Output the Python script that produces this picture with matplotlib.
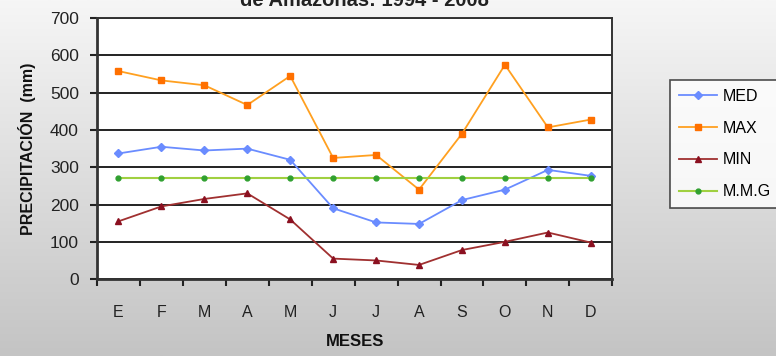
import matplotlib
matplotlib.use('Agg')
import matplotlib.pyplot as plt
import numpy as np

plt.rcParams['font.family'] = ['Liberation Sans', 'DejaVu Sans']

meses = ['E', 'F', 'M', 'A', 'M', 'J', 'J', 'A', 'S', 'O', 'N', 'D']
med = [337, 355, 345, 350, 320, 190, 152, 148, 212, 240, 293, 277]
maxi = [558, 533, 520, 467, 545, 325, 333, 240, 390, 575, 407, 428]
mini = [155, 195, 215, 230, 160, 55, 50, 38, 78, 100, 125, 98]
mmg = [270] * 12

fig = plt.figure(figsize=(7.76, 3.56), dpi=100)

# grey gradient background
bg = fig.add_axes([0, 0, 1, 1], zorder=-10)
grad = np.linspace(0, 1, 256).reshape(-1, 1)
bg.imshow(grad, aspect='auto', cmap=matplotlib.colors.LinearSegmentedColormap.from_list(
    'g', ['#f6f6f6', '#c4c4c4']), extent=[0, 1, 0, 1], origin='upper')
bg.axis('off')

ax = fig.add_axes([0.125, 0.216, 0.664, 0.733])
ax.set_facecolor('white')
x = np.arange(len(meses))

ax.plot(x, med, color='#6a8cff', marker='D', markersize=4, lw=1.3,
        markerfacecolor='#6a8cff', label='MED', zorder=3)
ax.plot(x, maxi, color='#ffa020', marker='s', markersize=4, lw=1.3,
        markerfacecolor='#ff7000', markeredgecolor='#ff7000', label='MAX', zorder=3)
ax.plot(x, mini, color='#a03030', marker='^', markersize=5, lw=1.3,
        markerfacecolor='#8b1020', markeredgecolor='#8b1020', label='MIN', zorder=3)
ax.plot(x, mmg, color='#a0d040', marker='o', markersize=3.5, lw=1.5,
        markerfacecolor='#30a030', markeredgecolor='#30a030', label='M.M.G', zorder=3)

ax.set_xlim(-0.5, 11.5)
ax.set_ylim(0, 700)
ax.set_yticks(np.arange(0, 701, 100))
ax.yaxis.grid(True, color='#222222', lw=1.4)
ax.set_axisbelow(True)

ax.set_xticks(x)
ax.set_xticklabels(meses, fontsize=11.5, color='#222222')
ax.set_xticks(np.arange(-0.5, 12, 1), minor=True)
ax.tick_params(axis='x', which='major', length=0, pad=19)
ax.tick_params(axis='x', which='minor', length=5, width=1.5, direction='out', color='#222222')
ax.tick_params(axis='y', length=5, width=1.5, direction='out', labelsize=12.5,
               color='#222222', labelcolor='#222222', pad=8)

for s in ax.spines.values():
    s.set_color('#333333')
    s.set_linewidth(1.4)
ax.spines['left'].set_linewidth(2)
ax.spines['bottom'].set_linewidth(2)

ax.set_xlabel('MESES', fontsize=12, fontweight='bold', labelpad=10, color='#111111')
ax.set_ylabel('PRECIPITACIÓN  (mm)', fontsize=11.5, fontweight='bold', labelpad=10,
              color='#111111')

fig.text(0.47, 0.999, 'de Amazonas: 1994 - 2008', fontsize=14.5, fontweight='bold',
         ha='center', va='center', color='#222222')

leg = fig.legend(loc='upper left', bbox_to_anchor=(670 / 776, 1 - 80 / 356),
                 fontsize=11.5, frameon=True, fancybox=False, edgecolor='#222222',
                 labelspacing=1.05, handlelength=2.4, handletextpad=0.35,
                 borderpad=0.55, borderaxespad=0)
leg.get_frame().set_linewidth(1.2)

fig.savefig('out.png', dpi=100)
